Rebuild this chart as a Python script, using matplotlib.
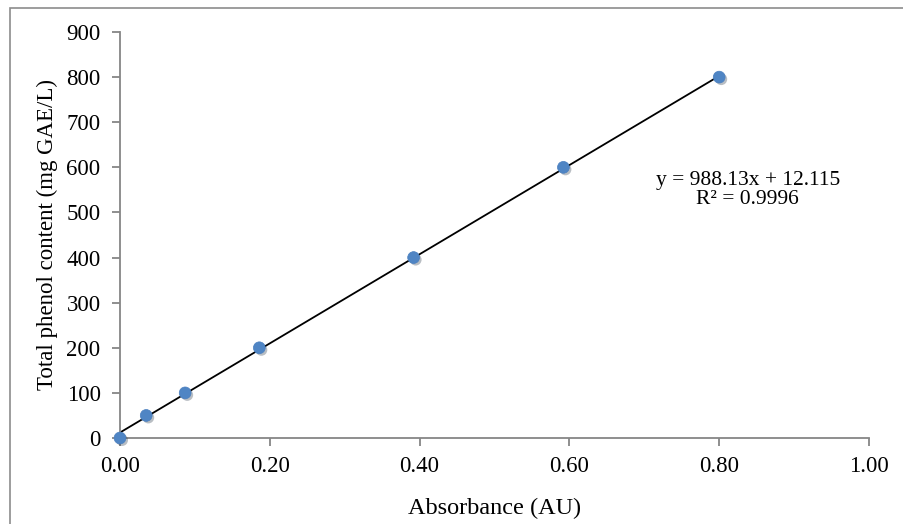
import numpy as np
import matplotlib
matplotlib.use("Agg")
import matplotlib.pyplot as plt
import matplotlib.patheffects as pe
from matplotlib.patches import Rectangle

# calibration data (absorbance vs gallic acid equivalents)
absorbance = [0.0, 0.035, 0.087, 0.186, 0.392, 0.592, 0.800]
phenol = [0, 50, 100, 200, 400, 600, 800]
slope = 988.13
intercept = 12.115
r2 = 0.9996

plt.rcParams['font.family'] = ['Liberation Serif', 'DejaVu Serif']

fig = plt.figure(figsize=(9.04, 5.24), dpi=100)
ax = fig.add_axes([120/904, 1-438/524, (869-120)/904, (438-32)/524])

# outer chart border
fig.patches.append(Rectangle((10/904, -0.05), 1.0, (524-8)/524 + 0.05,
                             transform=fig.transFigure, fill=False,
                             edgecolor='#8c8c8c', linewidth=1.2))

# trendline
xl = np.array([min(absorbance), max(absorbance)])
ax.plot(xl, slope*xl + intercept, color='black', lw=1.3, zorder=2)

ax.plot(absorbance, phenol, 'o', ms=8.5, color='#4f85c4', mec='#4a7fbf', mew=0.5,
        zorder=3, clip_on=False,
        path_effects=[pe.SimplePatchShadow(offset=(1.5, -1.5), alpha=0.3), pe.Normal()])

ax.set_xlim(0, 1.0)
ax.set_ylim(0, 900)
ax.set_xticks(np.arange(0, 1.01, 0.2))
ax.set_xticklabels(['%.2f' % v for v in np.arange(0, 1.01, 0.2)])
ax.set_yticks(range(0, 901, 100))

for s in ['top', 'right']:
    ax.spines[s].set_visible(False)
for s in ['left', 'bottom']:
    ax.spines[s].set_color('#868686')
    ax.spines[s].set_linewidth(1.3)
ax.tick_params(direction='out', length=6, width=1.3, color='#868686',
               labelsize=16.5)
ax.tick_params(axis='y', pad=8)
ax.tick_params(axis='x', pad=7)

ax.set_xlabel('Absorbance (AU)', fontsize=17.5, labelpad=15)
ax.set_ylabel('Total phenol content (mg GAE/L)', fontsize=16.5, labelpad=6)

ax.text(0.838, 0.611, 'y = %.2fx + %.3f\nR² = %.4f' % (slope, intercept, r2),
        transform=ax.transAxes, ha='center', va='center', fontsize=15.5,
        linespacing=1.0, multialignment='center')

fig.savefig('out.png', dpi=100)
